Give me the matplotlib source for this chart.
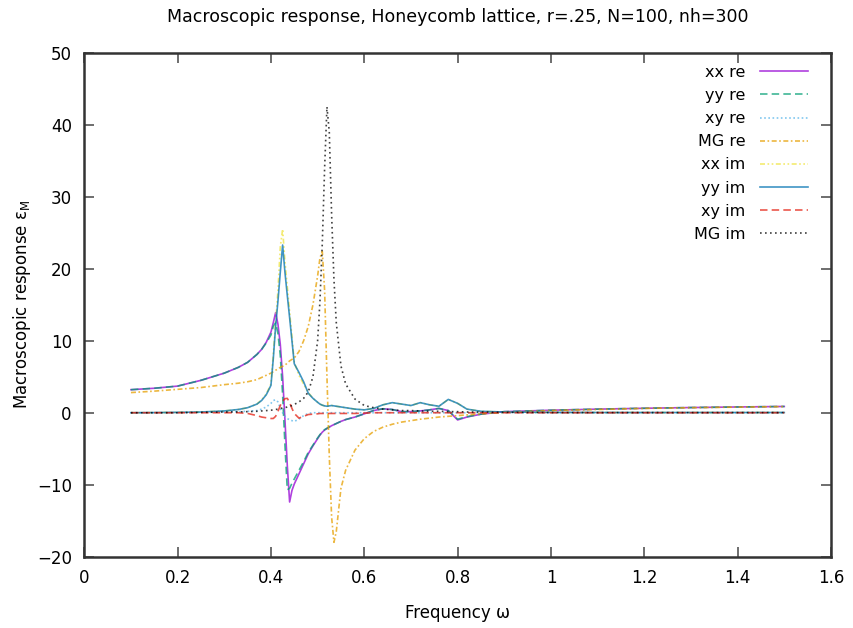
import matplotlib
matplotlib.use("Agg")
import matplotlib.pyplot as plt

# frequency grid (shared by all series)
freq = [0.10, 0.15, 0.20, 0.25, 0.30, 0.33, 0.35, 0.37, 0.38, 0.39,
        0.40, 0.405, 0.41, 0.415, 0.42, 0.425, 0.43, 0.435, 0.44, 0.445,
        0.45, 0.46, 0.47, 0.48, 0.49, 0.50, 0.505, 0.51, 0.515, 0.52,
        0.525, 0.53, 0.535, 0.54, 0.55, 0.56, 0.58, 0.60, 0.62, 0.64,
        0.66, 0.68, 0.70, 0.72, 0.74, 0.76, 0.78, 0.80, 0.82, 0.85,
        0.90, 1.00, 1.10, 1.20, 1.30, 1.40, 1.50]

xx_re = [3.2, 3.4, 3.7, 4.5, 5.5, 6.3, 7.0, 8.1, 8.8, 9.8,
         11.2, 12.5, 13.9, 12.3, 9.5, 5.0, -1.0, -7.3, -12.4, -10.8,
         -9.9, -8.5, -7.1, -5.7, -4.6, -3.6, -3.1, -2.7, -2.4, -2.2,
         -2.0, -1.8, -1.65, -1.5, -1.2, -0.95, -0.6, -0.15, 0.3, 0.55,
         0.45, 0.15, 0.15, 0.25, 0.4, 0.6, 0.3, -1.0, -0.6, -0.2,
         0.15, 0.35, 0.5, 0.62, 0.72, 0.8, 0.87]

yy_re = [3.2, 3.4, 3.7, 4.5, 5.5, 6.3, 7.0, 8.1, 8.8, 9.7,
         10.8, 12.0, 12.5, 11.0, 8.0, 2.5, -4.5, -10.7, -10.5, -9.8,
         -9.2, -8.0, -6.8, -5.5, -4.5, -3.5, -3.05, -2.65, -2.35, -2.15,
         -1.95, -1.8, -1.65, -1.5, -1.2, -0.95, -0.6, -0.15, 0.3, 0.55,
         0.45, 0.15, 0.15, 0.25, 0.4, 0.6, 0.3, -0.9, -0.55, -0.2,
         0.15, 0.35, 0.5, 0.62, 0.72, 0.8, 0.87]

xy_re = [0.0, 0.0, 0.02, 0.05, 0.1, 0.15, 0.2, 0.3, 0.5, 0.8,
         1.3, 1.7, 1.8, 1.5, 0.6, 0.0, -0.5, -0.8, -1.0, -1.1,
         -1.2, -0.9, -0.4, -0.1, 0.0, 0.0, 0.0, 0.0, 0.0, 0.0,
         0.0, 0.0, 0.0, 0.0, 0.0, 0.0, 0.0, 0.0, 0.0, 0.0,
         0.0, 0.0, 0.0, 0.0, 0.0, 0.0, 0.0, 0.0, 0.0, 0.0,
         0.0, 0.0, 0.0, 0.0, 0.0, 0.0, 0.0]

mg_re = [2.8, 3.0, 3.25, 3.5, 3.9, 4.1, 4.3, 4.6, 4.9, 5.2,
         5.5, 5.7, 5.9, 6.1, 6.3, 6.45, 6.6, 6.9, 7.2, 7.4,
         7.6, 8.5, 10.0, 12.0, 15.0, 19.0, 21.5, 22.4, 17.0, 5.0,
         -6.0, -14.5, -18.0, -16.5, -10.5, -8.0, -5.2, -3.6, -2.6, -2.0,
         -1.6, -1.3, -1.1, -0.9, -0.75, -0.6, -0.5, -0.4, -0.3, -0.15,
         0.05, 0.3, 0.45, 0.6, 0.7, 0.78, 0.85]

xx_im = [0.0, 0.02, 0.05, 0.1, 0.25, 0.45, 0.7, 1.2, 1.8, 2.6,
         4.0, 8.0, 12.5, 17.0, 23.0, 25.5, 21.0, 17.5, 14.0, 10.5,
         7.0, 5.2, 4.0, 2.8, 2.0, 1.45, 1.2, 1.05, 0.95, 0.9,
         0.95, 1.0, 0.95, 0.9, 0.8, 0.7, 0.5, 0.4, 0.6, 1.1,
         1.4, 1.2, 1.0, 1.4, 1.1, 0.9, 1.85, 1.3, 0.5, 0.2,
         0.1, 0.05, 0.03, 0.03, 0.03, 0.03, 0.03]

yy_im = [0.0, 0.02, 0.05, 0.1, 0.25, 0.45, 0.7, 1.2, 1.7, 2.5,
         3.8, 7.5, 12.0, 15.5, 19.5, 23.3, 19.5, 16.3, 13.2, 10.0,
         6.8, 5.6, 4.3, 2.7, 2.0, 1.45, 1.2, 1.05, 0.95, 0.9,
         0.95, 1.0, 0.95, 0.9, 0.8, 0.7, 0.5, 0.4, 0.6, 1.1,
         1.4, 1.2, 1.0, 1.4, 1.1, 0.9, 1.85, 1.3, 0.5, 0.2,
         0.1, 0.05, 0.03, 0.03, 0.03, 0.03, 0.03]

xy_im = [0.0, 0.0, 0.0, 0.0, 0.0, 0.0, -0.1, -0.4, -0.6, -0.7,
         -0.8, -0.8, -0.5, 0.2, 1.0, 1.6, 1.95, 2.0, 1.4, 0.6,
         -0.1, -0.75, -0.5, -0.25, -0.2, -0.15, -0.1, -0.1, -0.1, -0.1,
         -0.1, -0.1, -0.1, -0.1, -0.1, -0.1, -0.1, -0.05, 0.0, 0.0,
         0.0, 0.0, 0.0, 0.0, 0.0, 0.0, 0.0, 0.0, 0.0, 0.0,
         0.0, 0.0, 0.0, 0.0, 0.0, 0.0, 0.0]

mg_im = [0.0, 0.0, 0.0, 0.05, 0.1, 0.12, 0.15, 0.2, 0.25, 0.3,
         0.35, 0.4, 0.45, 0.5, 0.6, 0.65, 0.7, 0.8, 0.9, 1.0,
         1.15, 1.5, 2.0, 2.9, 5.0, 10.0, 15.5, 23.5, 34.0, 42.5,
         39.0, 27.5, 18.5, 12.5, 6.5, 4.0, 1.9, 1.0, 0.7, 0.5,
         0.4, 0.3, 0.3, 0.25, 0.2, 0.2, 0.15, 0.15, 0.1, 0.1,
         0.05, 0.03, 0.02, 0.02, 0.02, 0.02, 0.02]

series = [
    ("xx re", xx_re, "#9400d3", "-"),
    ("yy re", yy_re, "#009e73", (0, (4.5, 2.5))),
    ("xy re", xy_re, "#56b4e9", (0, (1, 1.5))),
    ("MG re", mg_re, "#e69f00", (0, (3, 1.5, 1, 1.5))),
    ("xx im", xx_im, "#f0e442", (0, (3, 1.5, 1, 1.5, 1, 1.5))),
    ("yy im", yy_im, "#0072b2", "-"),
    ("xy im", xy_im, "#e51e10", (0, (4.5, 2.5))),
    ("MG im", mg_im, "black", (0, (1, 2))),
]

fig = plt.figure(figsize=(8.54, 6.28), dpi=100)
ax = fig.add_axes([0.0987, 0.1135, 0.8743, 0.8025])

for label, vals, color, ls in series:
    ax.plot(freq, vals, color=color, linestyle=ls, linewidth=1.2, alpha=0.75, label=label)

ax.set_xlim(0, 1.6)
ax.set_ylim(-20, 50)
ax.set_xticks([0, 0.2, 0.4, 0.6, 0.8, 1, 1.2, 1.4, 1.6])
ax.set_xticklabels(["0", "0.2", "0.4", "0.6", "0.8", "1", "1.2", "1.4", "1.6"])
ax.set_yticks(range(-20, 51, 10))
ax.tick_params(direction="in", length=7, width=1.2, color="#555555",
               top=True, right=True, labelsize=12, pad=9)
for sp in ax.spines.values():
    sp.set_linewidth(1.8)
    sp.set_color("#333333")

ax.set_xlabel("Frequency ω", fontsize=12, labelpad=12)
ax.set_ylabel("Macroscopic response ε$_{\\mathrm{M}}$", fontsize=12, labelpad=3)
ax.set_title("Macroscopic response, Honeycomb lattice, r=.25, N=100, nh=300",
             fontsize=12.5, pad=22)

ax.legend(loc="upper right", bbox_to_anchor=(0.969, 0.976), frameon=False,
          markerfirst=False, fontsize=11.5, handlelength=3.0, handletextpad=0.9,
          labelspacing=0.51, borderpad=0, borderaxespad=0)

fig.savefig("out.png", dpi=100)
